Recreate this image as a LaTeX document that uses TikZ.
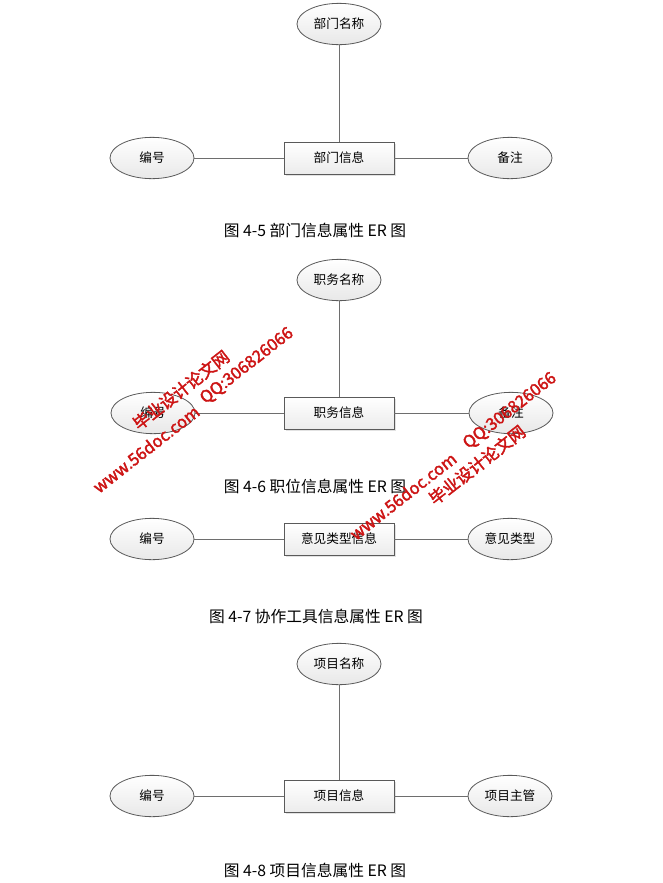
\documentclass[tikz,border=0pt]{standalone}
\usepackage{fontspec}
\setmainfont{Noto Sans CJK SC}
\newfontfamily\wmfont[FakeBold=2.2]{Noto Sans CJK SC}
\usetikzlibrary{shapes.geometric,shadows}
\definecolor{edgegray}{RGB}{110,110,110}
\definecolor{bordergray}{RGB}{90,90,90}
\definecolor{wmred}{RGB}{205,20,20}
\tikzset{
  attr/.style={ellipse, draw=bordergray, line width=0.6pt, top color=white, bottom color=gray!18,
    minimum width=63pt, minimum height=31pt, inner sep=0pt, font=\fontsize{9.5pt}{11pt}\selectfont},
  entity/.style={rectangle, draw=bordergray, line width=0.6pt, top color=white, bottom color=gray!15,
    minimum width=82.5pt, minimum height=24pt, inner sep=0pt,
    drop shadow={shadow xshift=1.2pt, shadow yshift=-1.2pt, fill=gray!45},
    font=\fontsize{9.5pt}{11pt}\selectfont},
  link/.style={draw=edgegray, line width=0.75pt},
  caption/.style={font=\fontsize{11.8pt}{14pt}\selectfont, inner sep=0pt},
  wm/.style={text=wmred, font=\wmfont\fontsize{12.5pt}{13pt}\selectfont, inner sep=0pt, rotate=38}
}
\begin{document}
\begin{tikzpicture}[x=0.75pt, y=-0.75pt]
\useasboundingbox[fill=white] (0,0) rectangle (663,883);

% Figure 4-5
\node[attr] (a1t) at (339,24) {部门名称};
\node[entity] (a1e) at (339,158) {部门信息};
\node[attr] (a1l) at (152,158) {编号};
\node[attr] (a1r) at (510,158) {备注};
\draw[link] (a1t) -- (a1e);
\draw[link] (a1l) -- (a1e);
\draw[link] (a1e) -- (a1r);
\node[caption] (c1) at (315,230) {图 4-5 部门信息属性 ER 图};

% Figure 4-6
\node[attr] (a2t) at (339,280) {职务名称};
\node[entity] (a2e) at (339,413) {职务信息};
\node[attr] (a2l) at (153,413) {编号};
\node[attr] (a2r) at (511,413) {备注};
\draw[link] (a2t) -- (a2e);
\draw[link] (a2l) -- (a2e);
\draw[link] (a2e) -- (a2r);
\node[caption] (c2) at (315,486) {图 4-6 职位信息属性 ER 图};

% Figure 4-7
\node[attr] (a3l) at (152,539) {编号};
\node[entity] (a3e) at (339,539) {意见类型信息};
\node[attr] (a3r) at (510,539) {意见类型};
\draw[link] (a3l) -- (a3e);
\draw[link] (a3e) -- (a3r);
\node[caption] (c3) at (316,616) {图 4-7 协作工具信息属性 ER 图};

% Figure 4-8
\node[attr] (a4t) at (339,664) {项目名称};
\node[entity] (a4e) at (339,796) {项目信息};
\node[attr] (a4l) at (152,796) {编号};
\node[attr] (a4r) at (510,796) {项目主管};
\draw[link] (a4t) -- (a4e);
\draw[link] (a4l) -- (a4e);
\draw[link] (a4e) -- (a4r);
\node[caption] (c4) at (315,870) {图 4-8 项目信息属性 ER 图};

% Watermarks
\node[wm] (w1) at (181,390) {毕业设计论文网};
\node[wm] (w2) at (146,449) {www.56doc.com};
\node[wm] (w3) at (247,366) {QQ:306826066};
\node[wm] (w4) at (510,411) {QQ:306826066};
\node[wm] (w5) at (477,465) {毕业设计论文网};
\node[wm] (w6) at (403,496) {www.56doc.com};
\end{tikzpicture}
\end{document}
